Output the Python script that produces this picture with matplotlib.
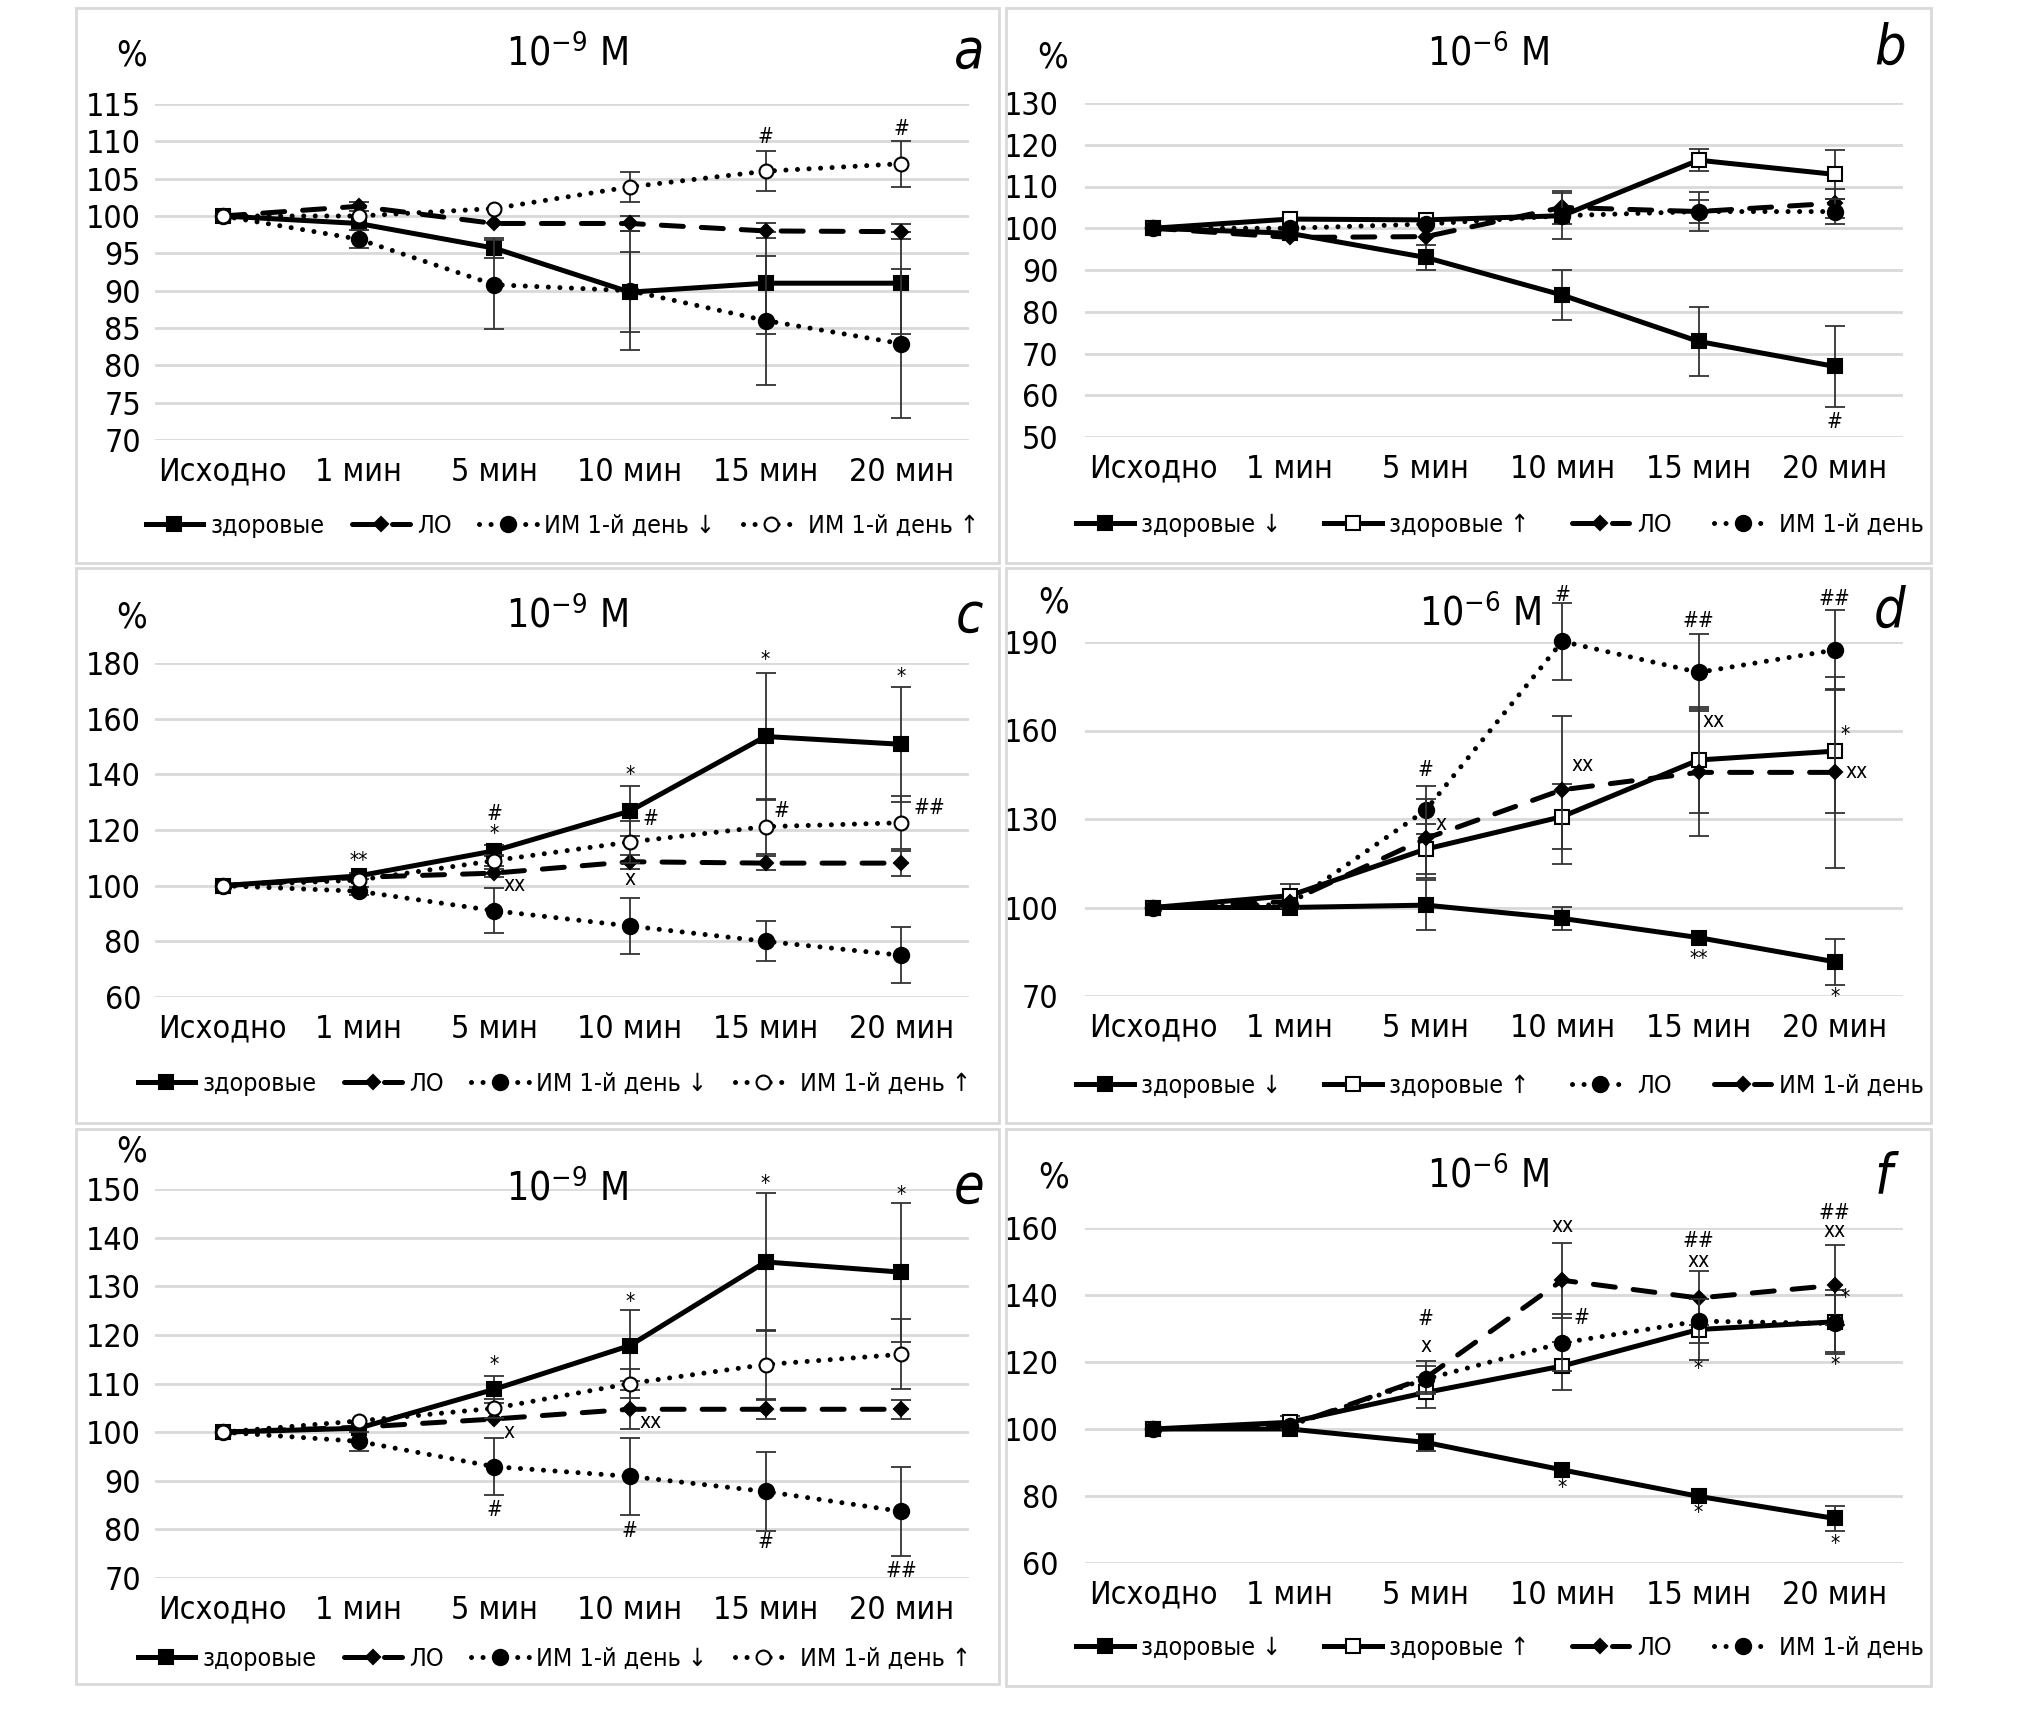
import numpy as np
import matplotlib
matplotlib.use('Agg')
import matplotlib.pyplot as plt
from matplotlib.patches import Rectangle

plt.rcParams['font.family'] = ['DejaVu Sans']
plt.rcParams['font.stretch'] = 'condensed'
plt.rcParams['mathtext.fontset'] = 'custom'
plt.rcParams['mathtext.rm'] = 'DejaVu Sans:stretch=condensed'
plt.rcParams['mathtext.default'] = 'regular'

W, H = 2020, 1713
nan = np.nan

#################################################################
# Data
#################################################################

cats = ['Исходно', '1 мин', '5 мин', '10 мин', '15 мин', '20 мин']

# a - 10^-9 M
a_zdor = [100, 99, 95.7, 89.8, 91, 91]
a_zdor_err = [nan, nan, 1.3, 5.4, 6.8, 6.8]
a_lo = [100, 101.3, 99, 99, 98, 97.9]
a_lo_err = [nan, 0.6, nan, 1, 1, 1]
a_im_dn = [100, 96.9, 90.8, 90, 86, 82.9]
a_im_dn_err = [nan, 1.2, 6, 8, 8.7, 10]
a_im_up = [100, 100, 101, 103.9, 106, 107]
a_im_up_err = [nan, nan, nan, 2, 2.7, 3.1]
a_yticks = list(range(70, 116, 5))
a_notes = [('#', 4, 110.6, 'center'), ('#', 5, 111.7, 'center')]

# b - 10^-6 M
b_zdor_dn = [100, 98.8, 93, 84, 72.9, 66.9]
b_zdor_dn_err = [nan, nan, 3, 6, 8.2, 9.7]
b_zdor_up = [100, 102.2, 102, 103, 116.3, 112.9]
b_zdor_up_err = [nan, nan, nan, nan, 2.6, 5.8]
b_lo = [100, 97.8, 98, 105, 104, 106]
b_lo_err = [nan, nan, nan, 4, 2.8, 3.5]
b_im = [100, 100, 101, 103, 104, 104]
b_im_err = [nan, nan, nan, 5.5, 4.7, 3]
b_yticks = list(range(50, 131, 10))
b_notes = [('#', 5, 53.6, 'center')]

# c - 10^-9 M
c_zdor = [100, 103.5, 112.5, 126.8, 153.6, 150.8]
c_zdor_err = [nan, 1, 2, 8.9, 22.8, 20.6]
c_lo = [100, 103, 104.5, 108.6, 108.1, 108.1]
c_lo_err = [nan, nan, 1.5, 2.5, 2.5, 4.5]
c_im_dn = [100, 98, 91, 85.5, 80, 75]
c_im_dn_err = [nan, 1.5, 8, 9.9, 7.2, 10]
c_im_up = [100, 102, 109, 115.7, 121.2, 122.6]
c_im_up_err = [nan, nan, 2, 7.5, 10, 9.5]
c_yticks = list(range(60, 181, 20))
c_notes = [('**', 1, 108.9, 'center'), ('#', 2, 125.6, 'center'), ('*', 2, 118.7, 'center'),
           ('xx', 2.07, 100.3, 'left'), ('*', 3, 139.9, 'center'), ('#', 3.09, 123.8, 'left'),
           ('x', 3, 102.4, 'center'), ('*', 4, 181, 'center'), ('#', 4.06, 126.8, 'left'),
           ('*', 5, 175, 'center'), ('##', 5.09, 128, 'left')]

# d - 10^-6 M
d_zdor_dn = [100, 100, 100.8, 96.3, 89.8, 81.6]
d_zdor_dn_err = [nan, nan, 8.4, 4, nan, 7.8]
d_zdor_up = [100, 104, 119.8, 130.8, 150, 153]
d_zdor_up_err = [nan, 4, 8.5, 11, 17.8, 21]
d_lo = [100, 101, 133, 190.2, 179.7, 187.3]
d_lo_err = [nan, nan, 8.2, 13, 13, 13.5]
d_im = [100, 102, 123.4, 139.9, 145.8, 145.8]
d_im_err = [nan, nan, 13.5, 25, 21.5, 32.5]
d_yticks = list(range(70, 191, 30))
d_notes = [('#', 2, 146.7, 'center'), ('x', 2.07, 128.2, 'left'), ('#', 3, 205.8, 'center'),
           ('xx', 3.07, 148.2, 'left'), ('##', 4, 197.2, 'center'), ('xx', 4.03, 163.3, 'left'),
           ('**', 4, 82.5, 'center'), ('##', 5, 204.7, 'center'), ('*', 5.04, 158.4, 'left'),
           ('xx', 5.08, 145.8, 'left'), ('*', 5, 69.5, 'center')]

# e - 10^-9 M
e_zdor = [100, 100.8, 108.8, 117.8, 135, 132.9]
e_zdor_err = [nan, nan, 2.8, 7.3, 14.2, 14.3]
e_lo = [100, 101, 102.7, 104.7, 104.7, 104.7]
e_lo_err = [nan, nan, nan, 4, 1.9, 2]
e_im_dn = [100, 98.1, 92.9, 90.9, 87.8, 83.7]
e_im_dn_err = [nan, 2, 5.9, 7.9, 8.1, 9.2]
e_im_up = [100, 102.3, 104.9, 110, 113.9, 116]
e_im_up_err = [nan, nan, 2, 3, 7, 7.2]
e_yticks = list(range(70, 151, 10))
e_notes = [('*', 2, 113.9, 'center'), ('x', 2.07, 100, 'left'), ('#', 2, 83.9, 'center'),
           ('*', 3, 126.7, 'center'), ('xx', 3.07, 102.1, 'left'), ('#', 3, 79.6, 'center'),
           ('*', 4, 151.1, 'center'), ('#', 4, 77.5, 'center'), ('*', 5, 148.7, 'center'),
           ('##', 5, 71.5, 'center')]

# f - 10^-6 M
f_zdor_dn = [100, 100, 96, 87.8, 79.9, 73.3]
f_zdor_dn_err = [nan, nan, 2.6, nan, nan, 3.6]
f_zdor_up = [100, 102, 110.9, 118.8, 129.7, 132]
f_zdor_up_err = [nan, 2, 4.5, 7.2, 9, 9.5]
f_lo = [100, 101, 115.3, 144.4, 139.1, 142.9]
f_lo_err = [nan, nan, 5, 11.2, 8, 12]
f_im = [100, 101, 114.9, 125.7, 132.2, 131.5]
f_im_err = [nan, nan, 4, 8.5, 6.5, 8.5]
f_yticks = list(range(60, 161, 20))
f_notes = [('#', 2, 132.8, 'center'), ('x', 2, 124.8, 'center'), ('xx', 3, 160.7, 'center'),
           ('#', 3.08, 133.2, 'left'), ('*', 3, 82.5, 'center'), ('##', 4, 156, 'center'),
           ('xx', 4, 150.2, 'center'), ('*', 4, 117.8, 'center'), ('*', 4, 74.8, 'center'),
           ('##', 5, 164.4, 'center'), ('xx', 5, 159, 'center'), ('*', 5.04, 139, 'left'),
           ('*', 5, 119.1, 'center'), ('*', 5, 65.6, 'center')]

#################################################################
# Styles and layout
#################################################################

DOT = (0, (0.01, 2.3))
DASH = (0, (4.4, 3.6))
STYLES = {
    'solid_sq': dict(ls='-', marker='s', ms=10, mfc='black'),
    'solid_osq': dict(ls='-', marker='s', ms=10, mfc='white'),
    'dash_dia': dict(ls=DASH, marker='D', ms=7, mfc='black'),
    'dot_circ': dict(ls=DOT, marker='o', ms=11, mfc='black'),
    'dot_ocirc': dict(ls=DOT, marker='o', ms=10, mfc='white'),
}

panels = [
    dict(letter='a', title=r'$10^{-9}$ M', yticks=a_yticks, notes=a_notes,
         series=[('здоровые', a_zdor, a_zdor_err, 'solid_sq'),
                 ('ЛО', a_lo, a_lo_err, 'dash_dia'),
                 ('ИМ 1-й день ↓', a_im_dn, a_im_dn_err, 'dot_circ'),
                 ('ИМ 1-й день ↑', a_im_up, a_im_up_err, 'dot_ocirc')],
         ax=(155, 104, 969, 440), box=(76, 8, 999, 563), ttl=(567, 54), pct=(132, 55),
         let=(969, 52), leg=(562, 526), cs=1.1),
    dict(letter='b', title=r'$10^{-6}$ M', yticks=b_yticks, notes=b_notes,
         series=[('здоровые ↓', b_zdor_dn, b_zdor_dn_err, 'solid_sq'),
                 ('здоровые ↑', b_zdor_up, b_zdor_up_err, 'solid_osq'),
                 ('ЛО', b_lo, b_lo_err, 'dash_dia'),
                 ('ИМ 1-й день', b_im, b_im_err, 'dot_circ')],
         ax=(1085, 103, 1903, 437), box=(1006, 8, 1931, 563), ttl=(1488, 54), pct=(1053, 57),
         let=(1890, 48), leg=(1500, 525), cs=1.7),
    dict(letter='c', title=r'$10^{-9}$ M', yticks=c_yticks, notes=c_notes,
         series=[('здоровые', c_zdor, c_zdor_err, 'solid_sq'),
                 ('ЛО', c_lo, c_lo_err, 'dash_dia'),
                 ('ИМ 1-й день ↓', c_im_dn, c_im_dn_err, 'dot_circ'),
                 ('ИМ 1-й день ↑', c_im_up, c_im_up_err, 'dot_ocirc')],
         ax=(155, 663, 969, 997), box=(76, 568, 999, 1123), ttl=(567, 616), pct=(132, 618),
         let=(969, 616), leg=(554, 1084), cs=1.1),
    dict(letter='d', title=r'$10^{-6}$ M', yticks=d_yticks, notes=d_notes,
         series=[('здоровые ↓', d_zdor_dn, d_zdor_dn_err, 'solid_sq'),
                 ('здоровые ↑', d_zdor_up, d_zdor_up_err, 'solid_osq'),
                 ('ЛО', d_lo, d_lo_err, 'dot_circ'),
                 ('ИМ 1-й день', d_im, d_im_err, 'dash_dia')],
         ax=(1085, 642, 1903, 996), box=(1006, 568, 1931, 1123), ttl=(1480, 614), pct=(1054, 603),
         let=(1890, 611), leg=(1500, 1086), cs=1.7),
    dict(letter='e', title=r'$10^{-9}$ M', yticks=e_yticks, notes=e_notes,
         series=[('здоровые', e_zdor, e_zdor_err, 'solid_sq'),
                 ('ЛО', e_lo, e_lo_err, 'dash_dia'),
                 ('ИМ 1-й день ↓', e_im_dn, e_im_dn_err, 'dot_circ'),
                 ('ИМ 1-й день ↑', e_im_up, e_im_up_err, 'dot_ocirc')],
         ax=(155, 1189, 969, 1578), box=(76, 1129, 999, 1684), ttl=(567, 1189), pct=(132, 1151),
         let=(969, 1187), leg=(554, 1659), cs=1.1),
    dict(letter='f', title=r'$10^{-6}$ M', yticks=f_yticks, notes=f_notes,
         series=[('здоровые ↓', f_zdor_dn, f_zdor_dn_err, 'solid_sq'),
                 ('здоровые ↑', f_zdor_up, f_zdor_up_err, 'solid_osq'),
                 ('ЛО', f_lo, f_lo_err, 'dash_dia'),
                 ('ИМ 1-й день', f_im, f_im_err, 'dot_circ')],
         ax=(1085, 1228, 1903, 1563), box=(1006, 1129, 1931, 1686), ttl=(1488, 1176), pct=(1054, 1178),
         let=(1883, 1177), leg=(1500, 1648), cs=1.7),
]


def fx(x):
    return x / W


def fy(y):
    return 1 - y / H


fig = plt.figure(figsize=(W / 100, H / 100), dpi=100)
fig.patch.set_facecolor('white')

x = np.arange(len(cats))

for p in panels:
    x0, y0, x1, y1 = p['box']
    fig.patches.append(Rectangle((fx(x0), fy(y1)), fx(x1 - x0), (y1 - y0) / H,
                                 transform=fig.transFigure, fill=False,
                                 edgecolor='#d9d9d9', lw=2))

    l, t, r, b = p['ax']
    ax = fig.add_axes([fx(l), fy(b), fx(r - l), (b - t) / H])
    yt = p['yticks']
    ax.set_xlim(-0.5, len(cats) - 0.5)
    ax.set_ylim(yt[0], yt[-1])
    ax.set_yticks(yt)
    ax.set_xticks(x)
    ax.set_xticklabels(cats)
    ax.tick_params(axis='both', length=0, labelsize=23)
    ax.tick_params(axis='x', pad=12)
    ax.tick_params(axis='y', pad=10 if l < 1000 else 19)
    for s in ax.spines.values():
        s.set_visible(False)
    ax.yaxis.grid(True, color='#d9d9d9', lw=2)
    ax.set_axisbelow(True)

    handles = []
    for k, (name, vals, errs, st) in enumerate(p['series']):
        style = STYLES[st]
        ax.errorbar(x, vals, yerr=errs, fmt='none', ecolor='#333333', elinewidth=1.3,
                    capsize=7, capthick=1.3, zorder=2 + k, clip_on=False)
        line, = ax.plot(x, vals, color='black', lw=3.6, ls=style['ls'], marker=style['marker'],
                        ms=style['ms'], mfc=style['mfc'], mec='black', mew=1.5,
                        dash_capstyle='round', zorder=3 + k, label=name, clip_on=False)
        handles.append(line)

    for txt, xi, yv, ha in p['notes']:
        ax.text(xi, yv, txt, fontsize=15, ha=ha, va='center', clip_on=False)

    ax.legend(handles=handles, loc='center', bbox_to_anchor=(fx(p['leg'][0]), fy(p['leg'][1])),
              bbox_transform=fig.transFigure, ncol=4, frameon=False, fontsize=18,
              handlelength=2.3, handletextpad=0.3, columnspacing=p['cs'], borderpad=0,
              numpoints=1)

    fig.text(fx(p['ttl'][0]), fy(p['ttl'][1]), p['title'], fontsize=28, ha='center', va='center')
    fig.text(fx(p['pct'][0]), fy(p['pct'][1]), '%', fontsize=26, ha='center', va='center')
    fig.text(fx(p['let'][0]), fy(p['let'][1]), p['letter'], fontsize=40, style='italic',
             ha='center', va='center')

fig.savefig('out.png', dpi=100, facecolor='white')
